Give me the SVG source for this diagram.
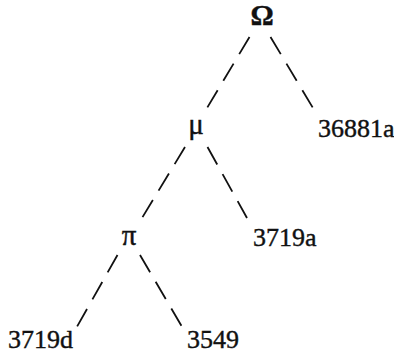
<svg xmlns="http://www.w3.org/2000/svg" width="394" height="359" viewBox="0 0 394 359">
  <style>
    .lbl { font-family: "Liberation Serif", "Times New Roman", serif; font-size: 26px; fill: #111; stroke: #111; stroke-width: 0.4; }
    .sym { text-anchor: middle; font-size: 29px; }
    .edge { stroke: #111; stroke-width: 1.8; stroke-dasharray: 20 11; fill: none; }
  </style>
  <rect width="394" height="359" fill="#fff"/>
  <g id="connectors">
    <line class="edge" x1="249.5" y1="37" x2="207" y2="108"/>
    <line class="edge" x1="270.5" y1="37" x2="313" y2="108"/>
    <line class="edge" x1="185" y1="147" x2="142" y2="218"/>
    <line class="edge" x1="207.5" y1="147" x2="247" y2="218"/>
    <line class="edge" x1="117.5" y1="255" x2="76" y2="328.5"/>
    <line class="edge" x1="140" y1="255" x2="183" y2="328.5"/>
  </g>
  <g id="omega"><text class="lbl sym" x="262" y="25" font-weight="bold" font-size="27">Ω</text></g>
  <g id="mu"><text class="lbl sym" x="196" y="134">μ</text></g>
  <g id="n36881a"><text class="lbl" x="318" y="137">36881a</text></g>
  <g id="pi"><text class="lbl sym" x="129" y="245">π</text></g>
  <g id="n3719a"><text class="lbl" x="253" y="246">3719a</text></g>
  <g id="n3719d"><text class="lbl" x="8" y="348">3719d</text></g>
  <g id="n3549"><text class="lbl" x="187" y="348">3549</text></g>
</svg>
